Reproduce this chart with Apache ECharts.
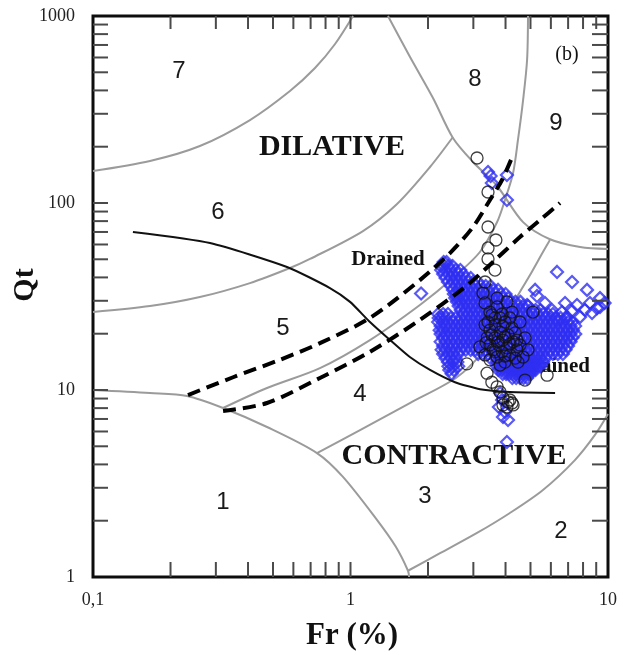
<!DOCTYPE html>
<html><head><meta charset="utf-8">
<script src="https://cdn.jsdelivr.net/npm/echarts@6/dist/echarts.min.js"></script>
<style>html,body{margin:0;padding:0;background:#fff;} #c{width:632px;height:655px;}</style>
</head><body><div id="c"></div>
<script>
// ---------- axis ticks / labels ----------
const xTickValues = [0.1, 1, 10];
const xTickLabels = ['0,1', '1', '10'];
const yTickValues = [1, 10, 100, 1000];
const yTickLabels = ['1', '10', '100', '1000'];
const xMinorTicks = [0.2,0.3,0.4,0.5,0.6,0.7,0.8,0.9,1,2,3,4,5,6,7,8,9];
const yMinorTicks = [2,3,4,5,6,7,8,9,10,20,30,40,50,60,70,80,90,100,200,300,400,500,600,700,800,900];

// ---------- zone boundaries (Fr %, Qt) ----------
const zone1Boundary = [[0.1,10],[0.1665,9.64],[0.232,9.29],[0.320,8.01],[0.474,6.34],[0.741,4.60],[0.935,3.43],[1.267,2.02],[1.50,1.45],[1.672,1.08],[1.688,1.0]];
const zone2Boundary = [[1.672,1.08],[2.227,1.34],[3.10,1.72],[4.16,2.20],[5.59,2.92],[7.44,4.22],[8.90,5.75],[10,7.44]];
const boundary34 = [[0.741,4.60],[1.089,6.11],[1.70,8.52],[2.59,11.7],[3.33,16.4],[3.98,23.1],[4.43,31.4],[4.98,41.2],[5.59,54.7],[5.95,63.4]];
const boundary45 = [[0.320,8.01],[0.474,10.25],[0.761,13.1],[1.19,18.5],[1.86,28.5],[2.50,39.7],[3.18,54.7],[3.71,79.1],[3.98,103.8],[4.28,144.7],[4.47,217.3],[4.68,355.4],[4.85,581.7],[4.89,1000]];
const boundary56 = [[0.1,26.1],[0.1665,28.1],[0.260,31.4],[0.407,37.3],[0.582,44.9],[0.696,50.2],[1.118,70.8],[1.516,98.8],[2.036,155.8],[2.50,225.4]];
const boundary67 = [[0.1,148.3],[0.1665,167.8],[0.260,201.7],[0.407,277.8],[0.582,397.2],[0.728,527.1],[0.871,708.4],[1.023,1000]];
const boundary89 = [[1.398,1000],[1.703,603.5],[2.091,364.3],[2.50,222.6],[2.99,165.7],[3.71,123.3],[4.68,79.0],[5.95,64.0],[7.79,58.2],[10,56.8]];

// ---------- reference lines ----------
const drainedLine = [[0.2338,9.40],[0.350,11.7],[0.532,14.5],[0.761,17.8],[1.19,24.3],[1.86,38.7],[2.434,54.0],[2.99,74.4],[3.48,103.8],[3.876,132.7],[4.277,180.6]];
const undrainedLine = [[0.320,7.72],[0.474,8.52],[0.761,11.6],[1.19,16.0],[1.86,23.7],[2.78,35.5],[3.576,48.4],[4.55,65.8],[5.445,81.1],[6.51,100]];
const steadyStateLine = [[0.1429,70.0],[0.2847,61.1],[0.5666,45.5],[0.832,35.1],[0.996,29.6],[1.19,23.1],[1.424,18.5],[1.70,15.0],[2.036,12.8],[2.546,11.0],[3.184,10.1],[4.16,9.76],[6.23,9.64]];

// ---------- CPT data: black circles ----------
const circleData = [[3.10,174],[3.42,114.5],[3.42,74.4],[3.67,63.4],[3.42,57.5],[3.42,50.2],[3.64,43.8],[3.33,37.8],[3.27,33.0],[4.05,29.6],[3.33,29.2],[3.71,27.8],[3.54,25.2],[3.81,24.3],[3.42,23.1],[3.98,23.1],[3.64,22.3],[4.24,21.5],[3.48,20.9],[3.81,20.4],[4.09,19.7],[3.39,19.0],[3.64,19.0],[3.91,18.5],[4.28,18.1],[3.48,17.4],[3.77,17.4],[4.05,16.8],[3.58,16.4],[3.88,16.0],[4.43,16.4],[4.16,15.4],[3.71,15.0],[4.68,15.0],[3.33,15.4],[4.47,14.1],[3.98,14.1],[5.11,26.1],[4.89,16.4],[4.43,18.5],[2.83,13.8],[3.39,12.3],[3.54,11.0],[3.71,10.4],[3.81,9.76],[3.91,9.06],[4.09,8.63],[4.24,8.52],[3.91,8.32],[4.05,8.11],[4.28,8.32],[4.76,11.3],[5.80,12.0],[4.16,8.84],
 [3.48,26.1],[3.88,25.5],[4.16,24.3],[3.64,24.3],[3.33,22.3],[3.91,21.9],[4.36,20.2],[3.54,19.7],[3.98,19.2],[3.36,17.9],[3.74,18.1],[4.16,17.6],[4.55,17.4],[3.64,16.0],[3.98,15.2],[4.36,14.8],[3.48,14.5],[3.81,13.6],[3.18,17.0],[4.76,19.0],[4.24,26.1],[3.71,31.0],[4.55,23.1]];

// ---------- CPT data: blue diamonds (dense cloud, read row by row) ----------
const blueRowQt = [48.4,46.0,43.8,41.7,39.7,37.8,36.0,34.3,32.6,31.0,29.6,28.1,26.8,25.5,24.3,23.1,22.0,20.9,19.9,19.0,18.1,17.2,16.4,15.6,14.8,14.1,13.4,12.8,12.2,11.6];
const blueRowFr = [
 [2.30,2.36],
 [2.24,2.31,2.40,2.49],
 [2.25,2.34,2.45,2.56,2.67],
 [2.29,2.39,2.50,2.62,2.74],
 [2.34,2.45,2.56,2.68,2.80,2.93],
 [2.39,2.50,2.62,2.74,2.86,2.99,3.13],
 [2.45,2.56,2.68,2.80,2.93,3.06,3.20,3.35,3.50],
 [2.50,2.62,2.74,2.86,2.99,3.13,3.27,3.42,3.58,3.74],
 [2.52,2.58,2.68,2.80,2.93,3.06,3.20,3.35,3.50,3.66,3.83,4.00],
 [2.55,2.62,2.74,2.86,2.99,3.13,3.27,3.42,3.58,3.74,3.91,4.09],
 [2.59,2.68,2.80,2.93,3.06,3.20,3.35,3.50,3.66,3.83,4.00,4.18,4.37,4.57],
 [2.63,2.74,2.86,2.99,3.13,3.27,3.42,3.58,3.74,3.91,4.09,4.27,4.47,4.67,4.89],
 [2.68,2.80,2.93,3.06,3.20,3.35,3.50,3.66,3.83,4.00,4.18,4.37,4.57,4.78,5.00,5.23,5.47],
 [2.19,2.29,2.39,2.74,2.86,2.99,3.13,3.27,3.42,3.58,3.74,3.91,4.09,4.27,4.47,4.67,4.89,5.11,5.34,5.59,5.85,6.11],
 [2.20,2.26,2.34,2.45,2.56,2.68,2.80,2.93,3.06,3.20,3.35,3.50,3.66,3.83,4.00,4.18,4.37,4.57,4.78,5.00,5.23,5.47,5.72,5.98,6.25,6.54,6.84],
 [2.19,2.29,2.39,2.50,2.62,2.74,2.86,2.99,3.13,3.27,3.42,3.58,3.74,3.91,4.09,4.27,4.47,4.67,4.89,5.11,5.34,5.59,5.85,6.11,6.39,6.68,6.99,7.25],
 [2.24,2.34,2.45,2.56,2.68,2.80,2.93,3.06,3.20,3.35,3.50,3.66,3.83,4.00,4.18,4.37,4.57,4.78,5.00,5.23,5.47,5.72,5.98,6.25,6.54,6.84,7.15,7.45],
 [2.22,2.29,2.39,2.50,2.62,2.74,2.86,2.99,3.13,3.27,3.42,3.58,3.74,3.91,4.09,4.27,4.47,4.67,4.89,5.11,5.34,5.59,5.85,6.11,6.39,6.68,6.99,7.31],
 [2.24,2.34,2.45,2.56,2.68,2.80,2.93,3.06,3.20,3.35,3.50,3.66,3.83,4.00,4.18,4.37,4.57,4.78,5.00,5.23,5.47,5.72,5.98,6.25,6.54,6.84,7.15,7.46],
 [2.29,2.39,2.50,2.62,2.74,2.86,2.99,3.13,3.27,3.42,3.58,3.74,3.91,4.09,4.27,4.47,4.67,4.89,5.11,5.34,5.59,5.85,6.11,6.39,6.68,6.99,7.28],
 [2.24,2.34,2.45,2.56,2.68,2.80,2.93,3.06,3.20,3.35,3.50,3.66,3.83,4.00,4.18,4.37,4.57,4.78,5.00,5.23,5.47,5.72,5.98,6.25,6.54,6.84,7.15],
 [2.29,2.39,2.50,2.62,2.74,2.86,2.99,3.13,3.27,3.42,3.58,3.74,3.91,4.09,4.27,4.47,4.67,4.89,5.11,5.34,5.59,5.85,6.11,6.39,6.68,6.99],
 [2.26,2.34,2.45,2.56,2.68,2.80,2.93,3.06,3.20,3.35,3.50,3.66,3.83,4.00,4.18,4.37,4.57,4.78,5.00,5.23,5.47,5.72,5.98,6.25,6.54,6.84],
 [2.29,2.39,2.50,2.62,3.13,3.27,3.42,3.58,3.74,3.91,4.09,4.27,4.47,4.67,4.89,5.11,5.34,5.59,5.85,6.11,6.39,6.68],
 [2.34,2.45,2.56,3.50,3.66,3.83,4.00,4.18,4.37,4.57,4.78,5.00,5.23,5.47,5.72],
 [2.39,2.50,2.60,3.70,3.80,3.91,4.00,4.09,4.18,4.27,4.37,4.47,4.57,4.67,4.78,4.89,5.00,5.11,5.23,5.34,5.47,5.59],
 [2.40,2.50,2.62,3.72,3.83,3.95,4.05,4.18,4.30,4.42,4.55,4.68,4.82,4.95,5.08,5.21,5.34,5.47],
 [2.42,2.52,3.75,3.86,3.98,4.10,4.22,4.35,4.47,4.60,4.73,4.87,5.00,5.11,5.23],
 [2.47,3.90,4.02,4.14,4.27,4.40,4.53,4.66,4.80,4.93,5.00],
 [4.25,4.40,4.55,4.70,4.85]
];
// ---------- CPT data: blue diamonds (scattered points) ----------
const blueSparse = [[3.42,146.5],[3.50,139.4],[4.05,141.2],[3.54,128.0],[4.05,103.8],[1.88,32.8],
 [6.34,42.8],[7.25,37.8],[8.29,34.3],[9.31,31.0],[9.70,29.2],[5.21,34.3],[5.30,31.8],[4.85,28.5],[5.69,29.2],[6.81,29.2],[7.58,28.5],[8.51,29.2],[9.31,27.8],[8.67,25.8],[7.79,24.6],[6.93,24.6],[6.34,23.7],[6.06,26.8],[6.63,26.1],[7.25,26.5],[8.14,26.8],[9.06,27.4],
 [3.81,9.64],[3.88,8.84],[3.77,8.11],[3.98,7.63],[3.91,7.17],[4.09,6.91],[4.05,5.27]];

// ---------- annotation texts ----------
const zoneNames = ['1','2','3','4','5','6','7','8','9'];
const regionNames = ['DILATIVE','CONTRACTIVE'];
const lineNames = ['Drained','Undrained'];
const panelTag = '(b)';
const xTitle = 'Fr (%)';
const yTitle = 'Qt';

// build the blue point table from the rows
const blueData = [];
blueRowQt.forEach((q, i) => blueRowFr[i].forEach(f => blueData.push([f, q])));
blueSparse.forEach(p => blueData.push(p));

const SERIF = "'Liberation Serif','Times New Roman',serif";
const SANS = "'Liberation Sans',Arial,sans-serif";
function lookupLabel(vals, labels, v) {
  const i = vals.findIndex(t => Math.abs(Math.log10(t) - Math.log10(v)) < 1e-6);
  return i >= 0 ? labels[i] : '';
}
const TICK = 15;
function tickRender(isX) {
  return function (params, api) {
    const cs = params.coordSys;
    const st = { stroke: '#4a4a4a', lineWidth: 2 };
    if (isX) {
      const px = api.coord([api.value(0), 1])[0];
      return { type: 'group', children: [
        { type: 'line', shape: { x1: px, y1: cs.y + cs.height, x2: px, y2: cs.y + cs.height - TICK }, style: st },
        { type: 'line', shape: { x1: px, y1: cs.y, x2: px, y2: cs.y + TICK - 2 }, style: st }
      ]};
    }
    const py = api.coord([0.1, api.value(1)])[1];
    return { type: 'group', children: [
      { type: 'line', shape: { x1: cs.x, y1: py, x2: cs.x + TICK, y2: py }, style: st },
      { type: 'line', shape: { x1: cs.x + cs.width, y1: py, x2: cs.x + cs.width - TICK - 1, y2: py }, style: st }
    ]};
  };
}
const grayStyle = { color: '#9b9b9b', width: 2 };
function boundarySeries(data) {
  return { type: 'line', data: data, showSymbol: false, smooth: 0.3, lineStyle: grayStyle, z: 1, silent: true };
}

// text placement (pixels)
const zonePos = [[223,502],[561,531],[425,496],[360,394],[283,328],[218,212],[179,71],[475,79],[556,123]];
const graphics = [];
zoneNames.forEach((t, i) => graphics.push({ type: 'text', x: zonePos[i][0], y: zonePos[i][1], style: { text: t, font: 'normal 24px ' + SANS, fill: '#1a1a1a', align: 'center', verticalAlign: 'middle' } }));
graphics.push({ type: 'text', x: 332, y: 147, style: { text: regionNames[0], font: 'bold 30px ' + SERIF, fill: '#111', align: 'center', verticalAlign: 'middle' } });
graphics.push({ type: 'text', x: 454, y: 456, style: { text: regionNames[1], font: 'bold 30px ' + SERIF, fill: '#111', align: 'center', verticalAlign: 'middle' } });
graphics.push({ type: 'text', x: 388, y: 260, style: { text: lineNames[0], font: 'bold 21px ' + SERIF, fill: '#111', align: 'center', verticalAlign: 'middle' } });
graphics.push({ type: 'text', x: 590, y: 367, style: { text: lineNames[1], font: 'bold 21px ' + SERIF, fill: '#111', align: 'right', verticalAlign: 'middle' } });
graphics.push({ type: 'text', x: 567, y: 55, style: { text: panelTag, font: 'normal 20px ' + SERIF, fill: '#111', align: 'center', verticalAlign: 'middle' } });
graphics.push({ type: 'text', x: 352, y: 636, style: { text: xTitle, font: 'bold 31px ' + SERIF, fill: '#111', align: 'center', verticalAlign: 'middle' } });
graphics.push({ type: 'text', x: 25, y: 285, rotation: Math.PI / 2, style: { text: yTitle, font: 'bold 30px ' + SERIF, fill: '#111', align: 'center', verticalAlign: 'middle' } });

const chart = echarts.init(document.getElementById('c'), null, { renderer: 'canvas' });
chart.setOption({
  animation: false,
  backgroundColor: '#fff',
  grid: { left: 93, right: 24, top: 16, bottom: 78, show: true, borderColor: '#0d0d0d', borderWidth: 3, backgroundColor: 'transparent' },
  xAxis: {
    type: 'log', logBase: 10, min: 0.1, max: 10,
    axisLine: { show: false }, axisTick: { show: false }, splitLine: { show: false }, minorTick: { show: false },
    axisLabel: { show: true, margin: 14, fontFamily: SERIF, fontSize: 18, color: '#222', showMinLabel: true, showMaxLabel: true,
      formatter: v => lookupLabel(xTickValues, xTickLabels, v) }
  },
  yAxis: {
    type: 'log', logBase: 10, min: 1, max: 1000,
    axisLine: { show: false }, axisTick: { show: false }, splitLine: { show: false }, minorTick: { show: false },
    axisLabel: { show: true, margin: 18, fontFamily: SERIF, fontSize: 18, color: '#222', showMinLabel: true, showMaxLabel: true,
      formatter: v => lookupLabel(yTickValues, yTickLabels, v) }
  },
  graphic: { elements: graphics },
  series: [
    boundarySeries(zone1Boundary),
    boundarySeries(zone2Boundary),
    boundarySeries(boundary34),
    boundarySeries(boundary45),
    boundarySeries(boundary56),
    boundarySeries(boundary67),
    boundarySeries(boundary89),
    { type: 'scatter', data: blueData, symbol: 'diamond', symbolSize: 12, z: 2, silent: true,
      itemStyle: { color: 'rgba(0,0,0,0)', borderColor: '#2f2ff2', borderWidth: 2.2 } },
    { type: 'scatter', data: circleData, symbol: 'circle', symbolSize: 12, z: 3, silent: true,
      itemStyle: { color: 'rgba(0,0,0,0)', borderColor: '#111', borderWidth: 1.3 } },
    { type: 'line', data: steadyStateLine, showSymbol: false, smooth: 0.2, z: 4, silent: true, lineStyle: { color: '#111', width: 2 } },
    { type: 'line', data: drainedLine, showSymbol: false, smooth: 0.3, z: 5, silent: true, lineStyle: { color: '#000', width: 4, type: [13, 7] } },
    { type: 'line', data: undrainedLine, showSymbol: false, smooth: 0.3, z: 5, silent: true, lineStyle: { color: '#000', width: 4, type: [13, 7] } },
    { type: 'custom', data: xMinorTicks.map(v => [v, 1]), encode: { x: 0, y: 1 }, renderItem: tickRender(true), clip: false, z: 6, silent: true },
    { type: 'custom', data: yMinorTicks.map(v => [0.1, v]), encode: { x: 0, y: 1 }, renderItem: tickRender(false), clip: false, z: 6, silent: true }
  ]
});
</script></body></html>
